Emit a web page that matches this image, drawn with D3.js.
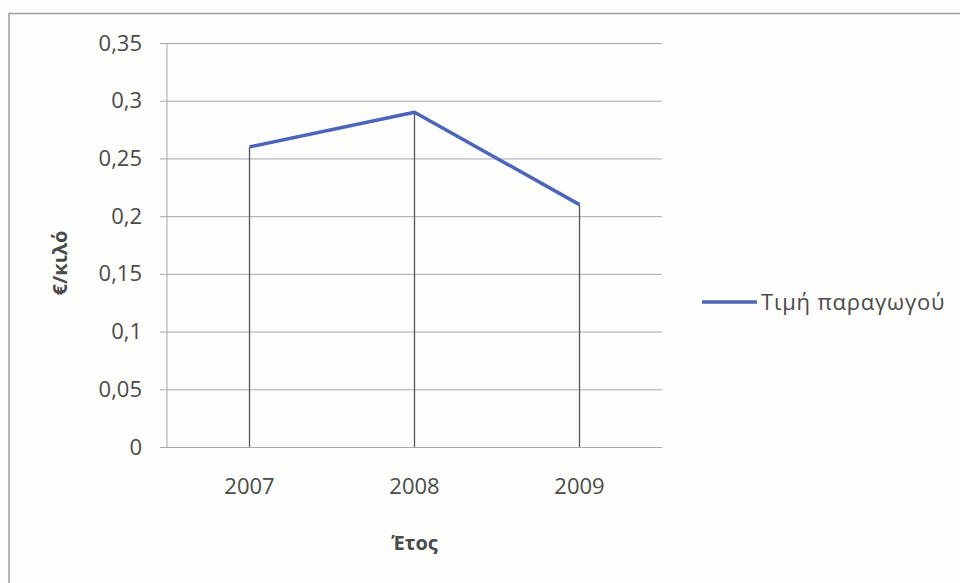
<!DOCTYPE html>
<html>
<head>
<meta charset="utf-8">
<script src="https://cdn.jsdelivr.net/npm/d3@7"></script>
<style>
  html, body { margin: 0; padding: 0; background: #fdfefc; }
  svg { display: block; }
  text { font-family: "Open Sans", sans-serif; fill: #4a4a4a; }
</style>
</head>
<body>
<svg id="chart" width="960" height="583"></svg>
<script>
// Producer price per year (€/kilo)
const years = ["2007", "2008", "2009"];
const prices = [0.26, 0.29, 0.21];
const yTicks = [0, 0.05, 0.1, 0.15, 0.2, 0.25, 0.3, 0.35];
const seriesName = "Τιμή παραγωγού";
const yTitle = "€/κιλό";
const xTitle = "Έτος";

const svg = d3.select("#chart");
const W = 960, H = 583;
const plot = { left: 167, right: 662, top: 43, bottom: 447 };

// outer chart frame (only left and top edges fall within the view)
svg.append("path")
  .attr("d", `M9,${H} V13.5 H${W}`)
  .attr("fill", "none")
  .attr("stroke", "#a09ca6")
  .attr("stroke-width", 1.5);

const x = d3.scaleBand().domain(years).range([plot.left, plot.right]);
const y = d3.scaleLinear().domain([0, 0.35]).range([plot.bottom, plot.top]);

const fmt = v => String(+v.toFixed(2)).replace(".", ",");

// horizontal gridlines with outside tick marks
const yAxis = d3.axisLeft(y)
  .tickValues(yTicks)
  .tickSize(-(plot.right - plot.left))
  .tickSizeOuter(0)
  .tickFormat(fmt)
  .tickPadding(25);
const gy = svg.append("g")
  .attr("transform", `translate(${plot.left},0)`)
  .call(yAxis);
gy.select(".domain").remove();
gy.selectAll(".tick line")
  .attr("x1", -7)
  .attr("stroke", "#a8a6ae")
  .attr("stroke-width", 1);
gy.selectAll(".tick text")
  .attr("font-size", 22)
  .attr("fill", "#454545");

// vertical axis line
svg.append("line")
  .attr("x1", plot.left).attr("x2", plot.left)
  .attr("y1", plot.top).attr("y2", plot.bottom)
  .attr("stroke", "#a8a6ae");

// category labels
const xAxis = d3.axisBottom(x).tickSize(0).tickPadding(31);
const gx = svg.append("g")
  .attr("transform", `translate(0,${plot.bottom})`)
  .call(xAxis);
gx.select(".domain").remove();
gx.selectAll(".tick text")
  .attr("font-size", 22)
  .attr("fill", "#454545");

const cx = d => x(d) + x.bandwidth() / 2;

// drop lines from each point to the category axis
svg.append("g").selectAll("line")
  .data(years)
  .join("line")
  .attr("x1", d => cx(d)).attr("x2", d => cx(d))
  .attr("y1", (d, i) => y(prices[i]))
  .attr("y2", plot.bottom)
  .attr("stroke", "#55545c")
  .attr("stroke-width", 1.3);

// price line
const line = d3.line()
  .x((d, i) => cx(years[i]))
  .y(d => y(d));
svg.append("path")
  .datum(prices)
  .attr("d", line)
  .attr("fill", "none")
  .attr("stroke", "#4c65b8")
  .attr("stroke-width", 3.5)
  .attr("stroke-linejoin", "round");

// axis titles
svg.append("text")
  .attr("transform", "translate(67,263) rotate(-90)")
  .attr("text-anchor", "middle")
  .attr("font-size", 20)
  .attr("font-weight", "bold")
  .attr("fill", "#2a2a2a")
  .text(yTitle);
svg.append("text")
  .attr("x", cx("2008"))
  .attr("y", 550)
  .attr("text-anchor", "middle")
  .attr("font-size", 20)
  .attr("font-weight", "bold")
  .attr("fill", "#2a2a2a")
  .text(xTitle);

// legend
const lg = svg.append("g").attr("transform", "translate(702,302)");
lg.append("line")
  .attr("x1", 0).attr("x2", 55)
  .attr("stroke", "#4c65b8")
  .attr("stroke-width", 3.5);
lg.append("text")
  .attr("x", 59)
  .attr("y", 8)
  .attr("font-size", 22)
  .attr("letter-spacing", 0.8)
  .attr("fill", "#454545")
  .text(seriesName);
</script>
</body>
</html>
